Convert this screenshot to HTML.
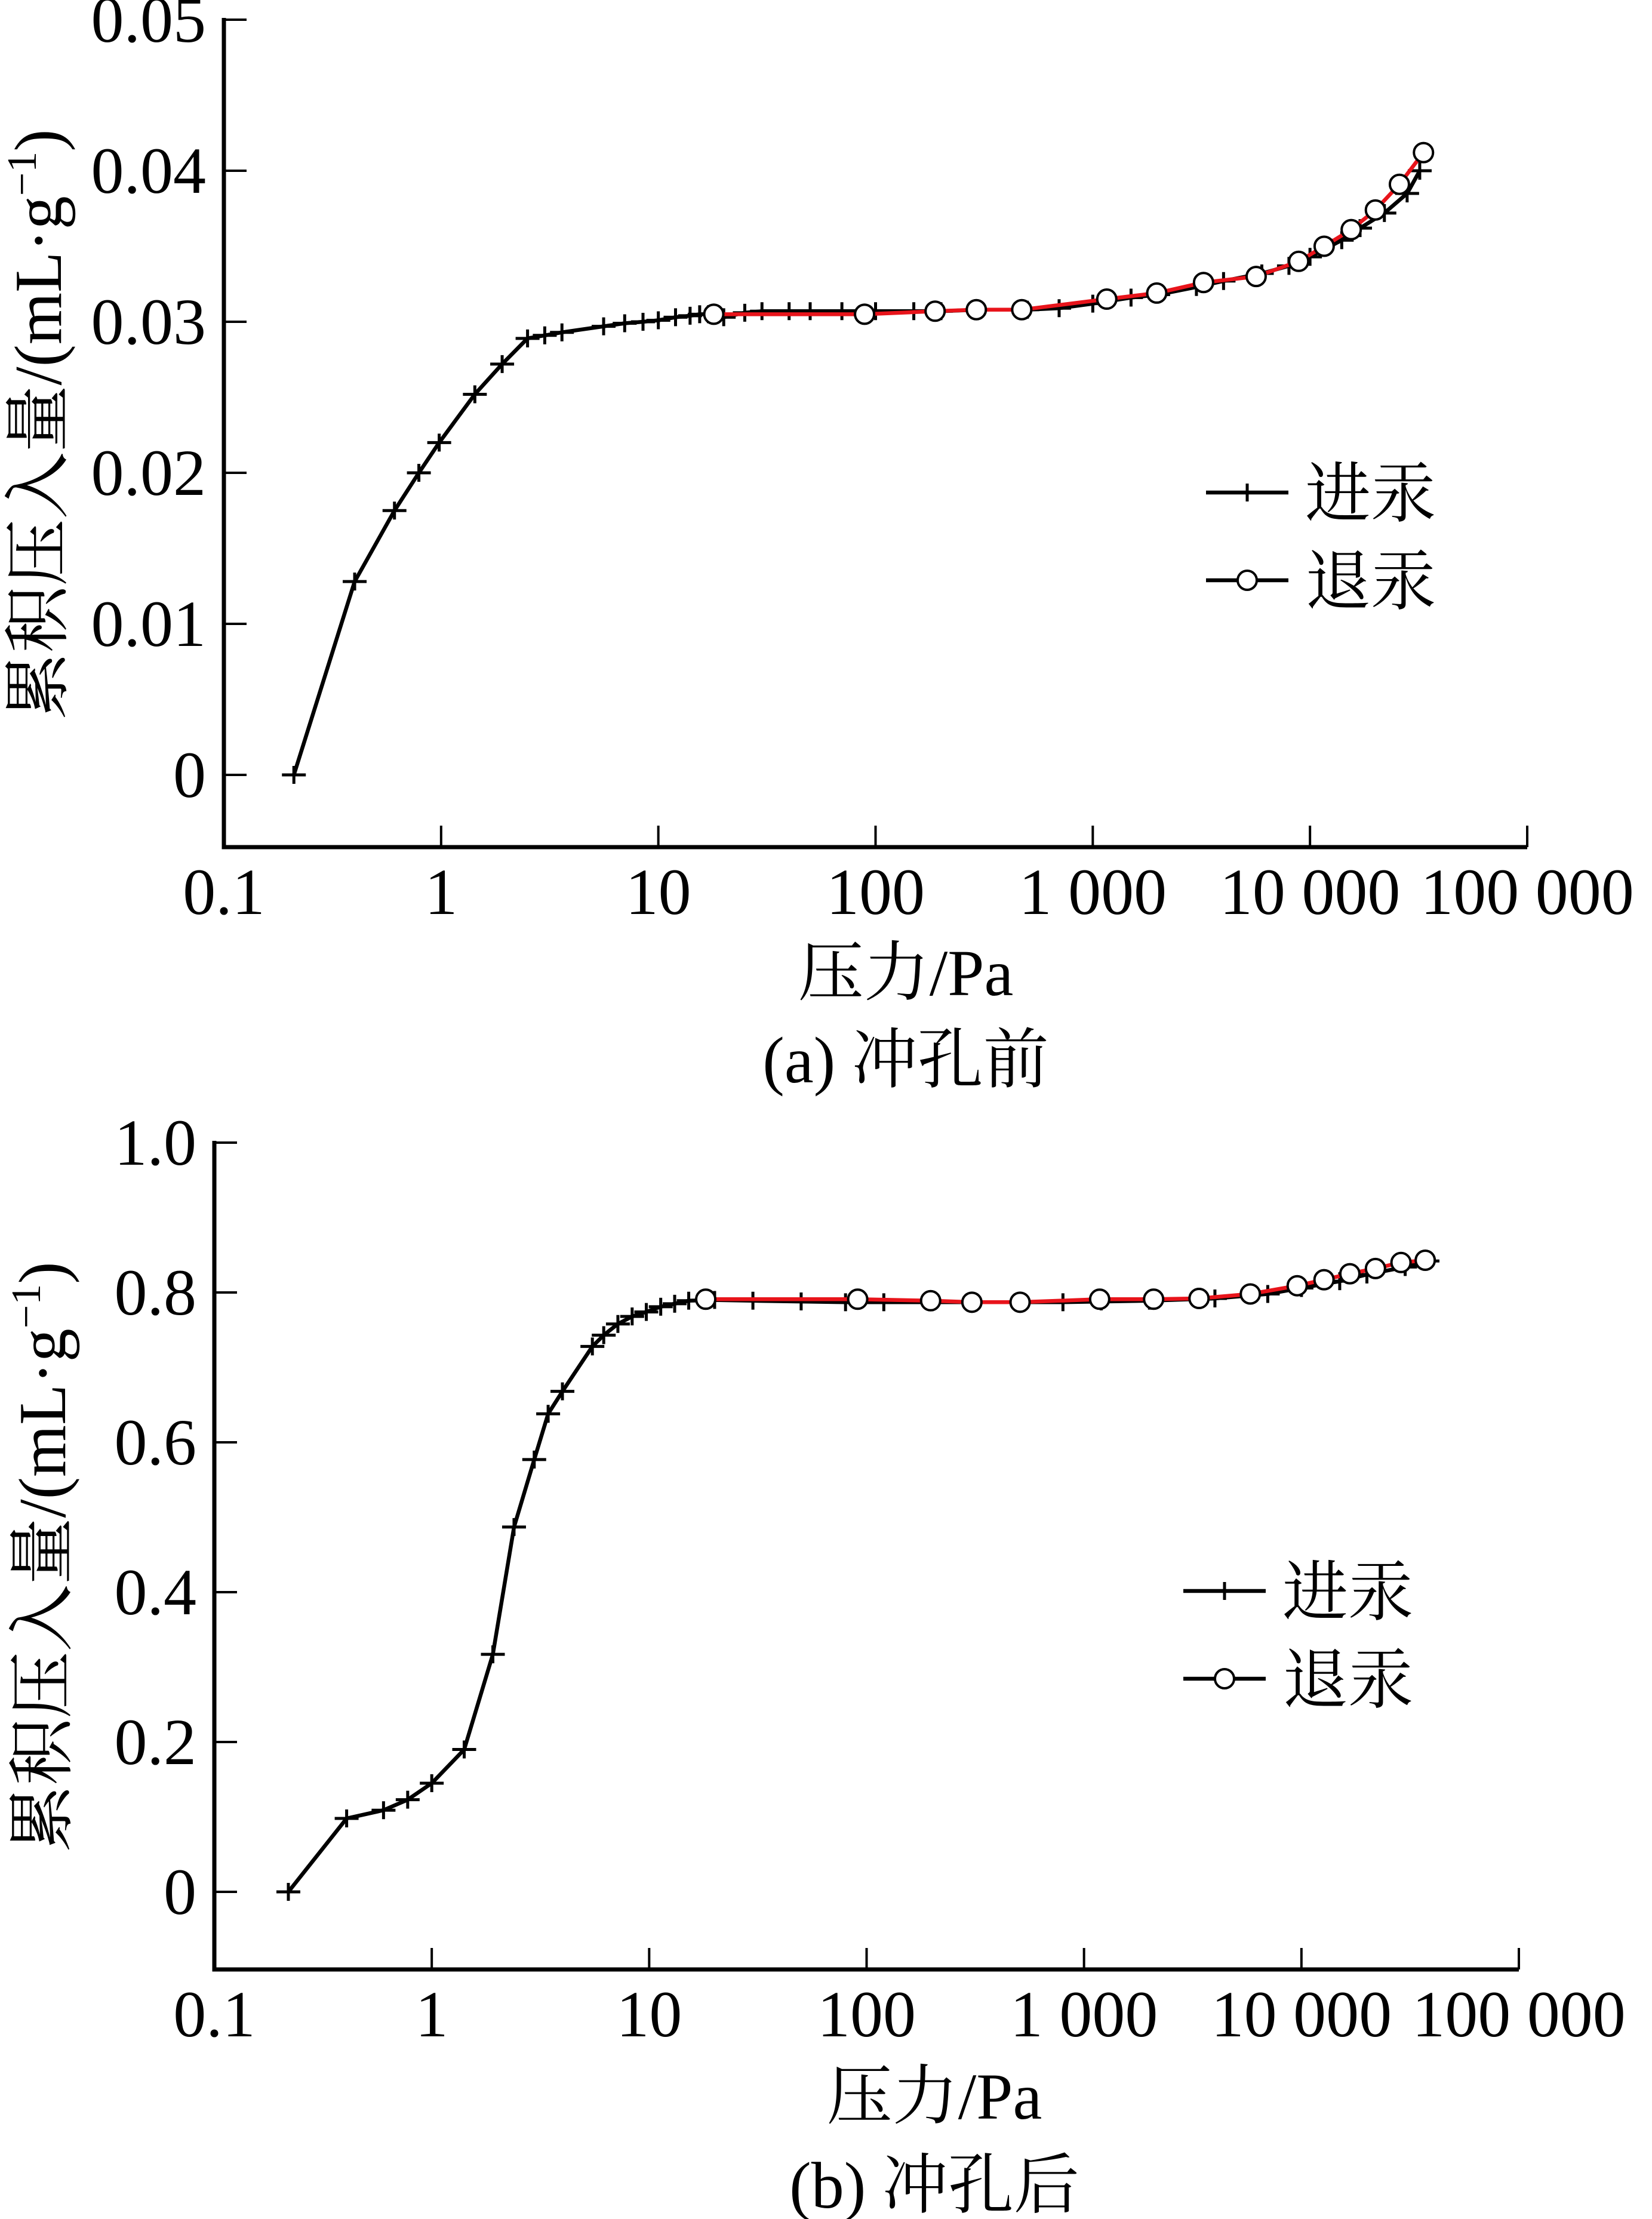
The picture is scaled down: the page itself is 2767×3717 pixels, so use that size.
<!DOCTYPE html>
<html><head><meta charset="utf-8"><style>
html,body{margin:0;padding:0;background:#fff}
svg{display:block}
text{font-family:"Liberation Serif","Noto Serif CJK SC","Noto Sans CJK SC",serif;fill:#000}
</style></head>
<body>
<svg id="fig" width="2767" height="3717" viewBox="0 0 2767 3717" xmlns="http://www.w3.org/2000/svg"></svg>
<script>
// ---------- data: chart (a) ----------
const xTickValues = [0.1, 1, 10, 100, 1000, 10000, 100000];
const xTickLabels = ["0.1", "1", "10", "100", "1 000", "10 000", "100 000"];
const aYTicks = [0, 0.01, 0.02, 0.03, 0.04, 0.05];
const aYTickLabels = ["0", "0.01", "0.02", "0.03", "0.04", "0.05"];
const aInP = [0.21,0.40,0.61,0.79,0.98,1.43,1.91,2.5,3.0,3.6,5.6,7,8.5,10,12,14,15.5,17,20,25,30,40,50,70,100,150,200,300,500,700,1000,1500,2000,3000,4000,6000,8000,10000,14000,17000,22000,28000,32000];
const aInV = [0,0.0128,0.0175,0.0200,0.0220,0.0252,0.0272,0.0289,0.0291,0.0293,0.0297,0.0299,0.0300,0.0301,0.0303,0.0304,0.0305,0.0305,0.0303,0.0306,0.0307,0.0307,0.0307,0.0307,0.0307,0.0307,0.0307,0.0308,0.0308,0.0309,0.0312,0.0316,0.0318,0.0323,0.0327,0.0332,0.0337,0.0343,0.0354,0.0362,0.0372,0.0385,0.0400];
const aOutP = [18,89,188,291,471,1160,1970,3235,5650,8870,11620,15480,20000,25800,33300];
const aOutV = [0.0305,0.0305,0.0307,0.0308,0.0308,0.0315,0.0319,0.0326,0.0330,0.0340,0.0350,0.0361,0.0374,0.0391,0.0412];
// ---------- data: chart (b) ----------
const bYTicks = [0, 0.2, 0.4, 0.6, 0.8, 1.0];
const bYTickLabels = ["0", "0.2", "0.4", "0.6", "0.8", "1.0"];
const bInP = [0.219,0.406,0.60,0.775,1.0,1.41,1.91,2.39,2.96,3.43,3.99,5.48,6.18,7.18,8.35,9.7,11.3,13.1,15.2,20,30,50,80,120,200,300,500,800,1200,2000,4000,7000,10000,15000,20000,30000,38000];
const bInV = [0,0.098,0.109,0.123,0.145,0.19,0.317,0.487,0.577,0.638,0.668,0.728,0.743,0.758,0.768,0.774,0.781,0.785,0.789,0.790,0.789,0.788,0.787,0.787,0.787,0.787,0.787,0.787,0.788,0.789,0.792,0.798,0.806,0.815,0.824,0.834,0.842];
const bOutP = [18.2,91,197,305,508,1180,2090,3380,5820,9560,12700,16700,21900,28700,37100];
const bOutV = [0.791,0.791,0.789,0.787,0.787,0.791,0.791,0.792,0.798,0.809,0.817,0.825,0.832,0.840,0.843];

const NS = "http://www.w3.org/2000/svg";
const svg = document.getElementById("fig");
function mk(tag, attrs, parent, txt){
  const e = document.createElementNS(NS, tag);
  for (const k in attrs) e.setAttribute(k, attrs[k]);
  if (txt !== undefined) e.textContent = txt;
  (parent || svg).appendChild(e);
  return e;
}

function drawChart(cfg){
  const g = mk("g", {});
  
  
  const X = p => cfg.x0 + (Math.log10(p) + 1) * (cfg.x1 - cfg.x0) / 6;
  const Y = v => cfg.yZero + (cfg.yTop - cfg.yZero) * v / cfg.yMax;

  const ax = mk("path", {d:`M${cfg.x0} ${cfg.yTop-3} L${cfg.x0} ${cfg.axisY} L${cfg.x1} ${cfg.axisY}`, fill:"none", stroke:"#000", "stroke-width":7}, g);
  
  

  cfg.yTicks.forEach((v, i) => {
    const y = Y(v);
    const t = mk("line", {x1:cfg.x0, x2:cfg.x0+38, y1:y, y2:y, stroke:"#000", "stroke-width":4}, g);
    
    
    const l = mk("text", {x:cfg.x0-30, y:y+37, "text-anchor":"end", "font-size":110}, g, cfg.yLabels[i]);
    
    
  });
  xTickValues.forEach((p, i) => {
    const x = X(p);
    const t = mk("line", {x1:x, x2:x, y1:cfg.axisY, y2:cfg.axisY-36, stroke:"#000", "stroke-width":4}, g);
    
    
    const l = mk("text", {x:x, y:cfg.axisY+112, "text-anchor":"middle", "font-size":110}, g, xTickLabels[i]);
    
    
  });

  const inPts = cfg.inP.map((p, i) => `${X(p).toFixed(1)},${Y(cfg.inV[i]).toFixed(1)}`).join(" ");
  const il = mk("polyline", {points:inPts, fill:"none", stroke:"#000", "stroke-width":6.5, "stroke-linejoin":"round"}, g);
  
  
  cfg.inP.forEach((p, i) => {
    const x = X(p), y = Y(cfg.inV[i]);
    const m = mk("path", {d:`M${x-20} ${y} H${x+20} M${x} ${y-15} V${y+15}`, stroke:"#000", "stroke-width":5, fill:"none"}, g);
    
    
  });
  const outPts = cfg.outP.map((p, i) => `${X(p).toFixed(1)},${Y(cfg.outV[i]).toFixed(1)}`).join(" ");
  const ol = mk("polyline", {points:outPts, fill:"none", stroke:"#e8141b", "stroke-width":6.5, "stroke-linejoin":"round"}, g);
  
  
  cfg.outP.forEach((p, i) => {
    const c = mk("circle", {cx:X(p), cy:Y(cfg.outV[i]), r:16, fill:"#fff", stroke:"#000", "stroke-width":4}, g);
    
    
  });

  const lg = mk("g", {}, g);
  
  
  const e1 = mk("g", {}, lg);
  
  
  mk("line", {x1:cfg.lx, x2:cfg.lx+138, y1:cfg.ly1, y2:cfg.ly1, stroke:"#000", "stroke-width":6.5}, e1);
  mk("path", {d:`M${cfg.lx+49} ${cfg.ly1} H${cfg.lx+89} M${cfg.lx+69} ${cfg.ly1-15} V${cfg.ly1+15}`, stroke:"#000", "stroke-width":5}, e1);
  mk("text", {x:cfg.lx+166, y:cfg.ly1+40, "font-size":110}, e1, "进汞");
  const e2 = mk("g", {}, lg);
  
  
  mk("line", {x1:cfg.lx, x2:cfg.lx+138, y1:cfg.ly2, y2:cfg.ly2, stroke:"#000", "stroke-width":6.5}, e2);
  mk("circle", {cx:cfg.lx+69, cy:cfg.ly2, r:16, fill:"#fff", stroke:"#000", "stroke-width":4}, e2);
  mk("text", {x:cfg.lx+166, y:cfg.ly2+40, "font-size":110}, e2, "退汞");

  const xt = mk("text", {x:cfg.xtX, y:cfg.xtY+40, "text-anchor":"middle", "font-size":110}, g, "压力/Pa");
  
  
  const yt = mk("text", {transform:`translate(${cfg.ytX+38},${cfg.ytY}) rotate(-90)`, "text-anchor":"middle", "font-size":112}, g);
  
  
  mk("tspan", {}, yt, "累积压入量/(mL·g");
  mk("tspan", {dy:-42, "font-size":70}, yt, "−1");
  mk("tspan", {dy:42}, yt, ")");
  const cap = mk("text", {x:cfg.capX, y:cfg.capY+40, "text-anchor":"middle", "font-size":110}, g, cfg.caption);
  
  
}

drawChart({name:"chart-a-before-punching", x0:375, x1:2558, yTop:33, yZero:1298, yMax:0.05, axisY:1419,
  yTicks:aYTicks, yLabels:aYTickLabels, inP:aInP, inV:aInV, outP:aOutP, outV:aOutV,
  lx:2020, ly1:825, ly2:972, xtX:1517, xtY:1627, ytX:64, ytY:711, capX:1517, capY:1773, caption:"(a) 冲孔前"});
drawChart({name:"chart-b-after-punching", x0:359, x1:2544, yTop:1914, yZero:3169, yMax:1.0, axisY:3299,
  yTicks:bYTicks, yLabels:bYTickLabels, inP:bInP, inV:bInV, outP:bOutP, outV:bOutV,
  lx:1982, ly1:2665, ly2:2812, xtX:1565, xtY:3509, ytX:71, ytY:2608, capX:1565, capY:3658, caption:"(b) 冲孔后"});
</script>
</body></html>
